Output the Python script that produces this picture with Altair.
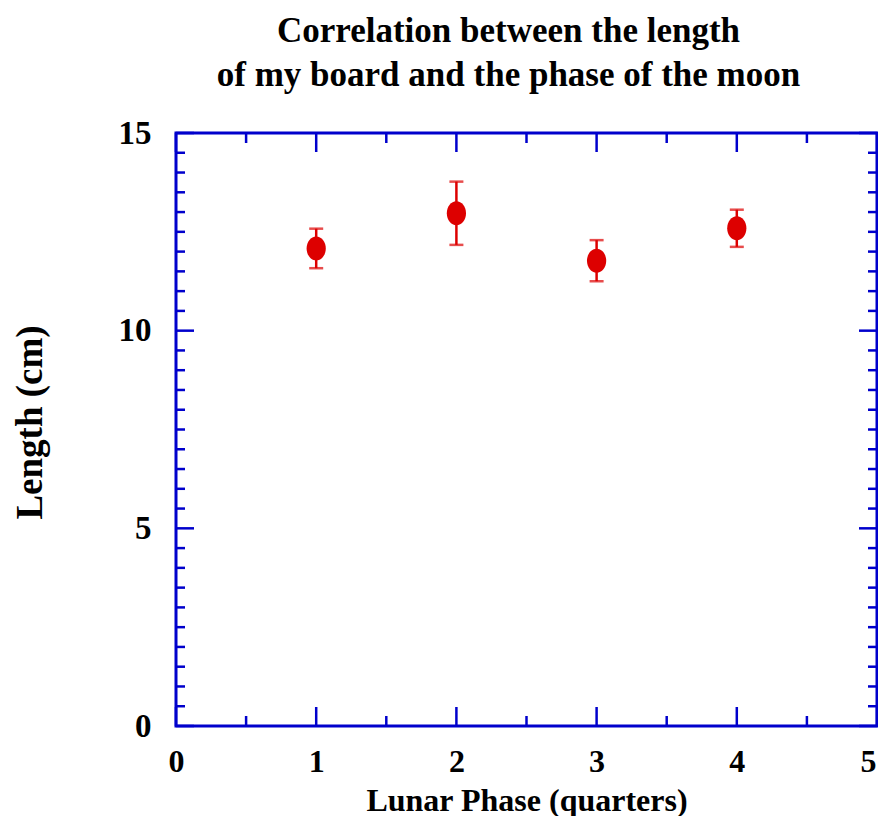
import altair as alt
import pandas as pd

# ---- data ----
phase = [1, 2, 3, 4]
length_cm = [12.08, 12.97, 11.77, 12.59]
error_cm = [0.50, 0.80, 0.52, 0.47]

x_major = [0, 1, 2, 3, 4, 5]
x_minor = [0.5, 1.5, 2.5, 3.5, 4.5]
y_major = [0, 5, 10, 15]
y_minor = [0.5, 1, 1.5, 2, 2.5, 3, 3.5, 4, 4.5,
           5.5, 6, 6.5, 7, 7.5, 8, 8.5, 9, 9.5,
           10.5, 11, 11.5, 12, 12.5, 13, 13.5, 14, 14.5]

W, H = 701, 593
RED = "#dd0000"
BLUE = "#0000cc"
FONT = "Liberation Serif"

df = pd.DataFrame({"phase": phase, "length": length_cm, "err": error_cm})
df["lo"] = df["length"] - df["err"]
df["hi"] = df["length"] + df["err"]

xs = alt.Scale(domain=[0, 5], nice=False, zero=False)
ys = alt.Scale(domain=[0, 15], nice=False, zero=False)

xaxis = alt.Axis(values=x_major, format="d", title="Lunar Phase (quarters)",
                 ticks=False, domain=False, grid=False,
                 labelFlush=False, labelOverlap=False,
                 labelOffset=alt.condition("datum.value == 5", alt.value(-9), alt.value(0)),
                 labelFont=FONT, labelFontWeight="bold", labelFontSize=32,
                 labelColor="black", labelPadding=20,
                 titleFont=FONT, titleFontWeight="bold", titleFontSize=32,
                 titleColor="black", titleBaseline="alphabetic", titleY=84)
yaxis = alt.Axis(values=y_major, format="d", title="Length (cm)",
                 ticks=False, domain=False, grid=False,
                 labelFlush=False, labelOverlap=False,
                 labelFont=FONT, labelFontWeight="bold", labelFontSize=33,
                 labelColor="black", labelPadding=25,
                 titleFont=FONT, titleFontWeight="bold", titleFontSize=37,
                 titleColor="black", titleBaseline="alphabetic", titleX=-135,
                 titleY=289)


def X(f):
    return alt.X(f"{f}:Q", scale=xs, axis=xaxis)


def Y(f):
    return alt.Y(f"{f}:Q", scale=ys, axis=yaxis)


base = alt.Chart(df)

bars = base.mark_rule(color=RED, strokeWidth=2.5).encode(
    x=X("phase"), y=Y("lo"), y2="hi")
cap_lo = base.mark_tick(color=RED, orient="horizontal", size=14, thickness=2.5).encode(
    x=X("phase"), y=Y("lo"))
cap_hi = base.mark_tick(color=RED, orient="horizontal", size=14, thickness=2.5).encode(
    x=X("phase"), y=Y("hi"))
pts = base.mark_point(
    shape="M-0.8,0A0.8,1,0,1,0,0.8,0A0.8,1,0,1,0,-0.8,0Z",
    filled=True, opacity=1, color=RED, size=576).encode(
    x=X("phase"), y=Y("length"))

tick_layers = []
for vals, ln in [(x_major, 19), (x_minor, 10)]:
    d = alt.Chart(pd.DataFrame({"v": vals}))
    tick_layers.append(d.mark_rule(color=BLUE, strokeWidth=2.5).encode(
        x=X("v"), y=alt.value(H), y2=alt.value(H - ln)))
    tick_layers.append(d.mark_rule(color=BLUE, strokeWidth=2.5).encode(
        x=X("v"), y=alt.value(0), y2=alt.value(ln)))
for vals, ln in [(y_major, 18), (y_minor, 9)]:
    d = alt.Chart(pd.DataFrame({"v": vals}))
    tick_layers.append(d.mark_rule(color=BLUE, strokeWidth=2.5).encode(
        y=Y("v"), x=alt.value(0), x2=alt.value(ln)))
    tick_layers.append(d.mark_rule(color=BLUE, strokeWidth=2.5).encode(
        y=Y("v"), x=alt.value(W), x2=alt.value(W - ln)))

chart = alt.layer(*tick_layers, bars, cap_lo, cap_hi, pts).properties(
    width=W, height=H,
    autosize=alt.AutoSizeParams(type="none"),
    padding={"left": 168, "top": 125, "right": 1, "bottom": 90},
    title=alt.TitleParams(
        text=["Correlation between the length", "of my board and the phase of the moon"],
        font=FONT, fontWeight="bold", fontSize=35, color="black",
        lineHeight=44, anchor="middle", dx=-18, offset=24),
).configure(background="white").configure_view(stroke=BLUE, strokeWidth=3)

chart.save("out.html", embed_options={"renderer": "svg", "actions": False})
